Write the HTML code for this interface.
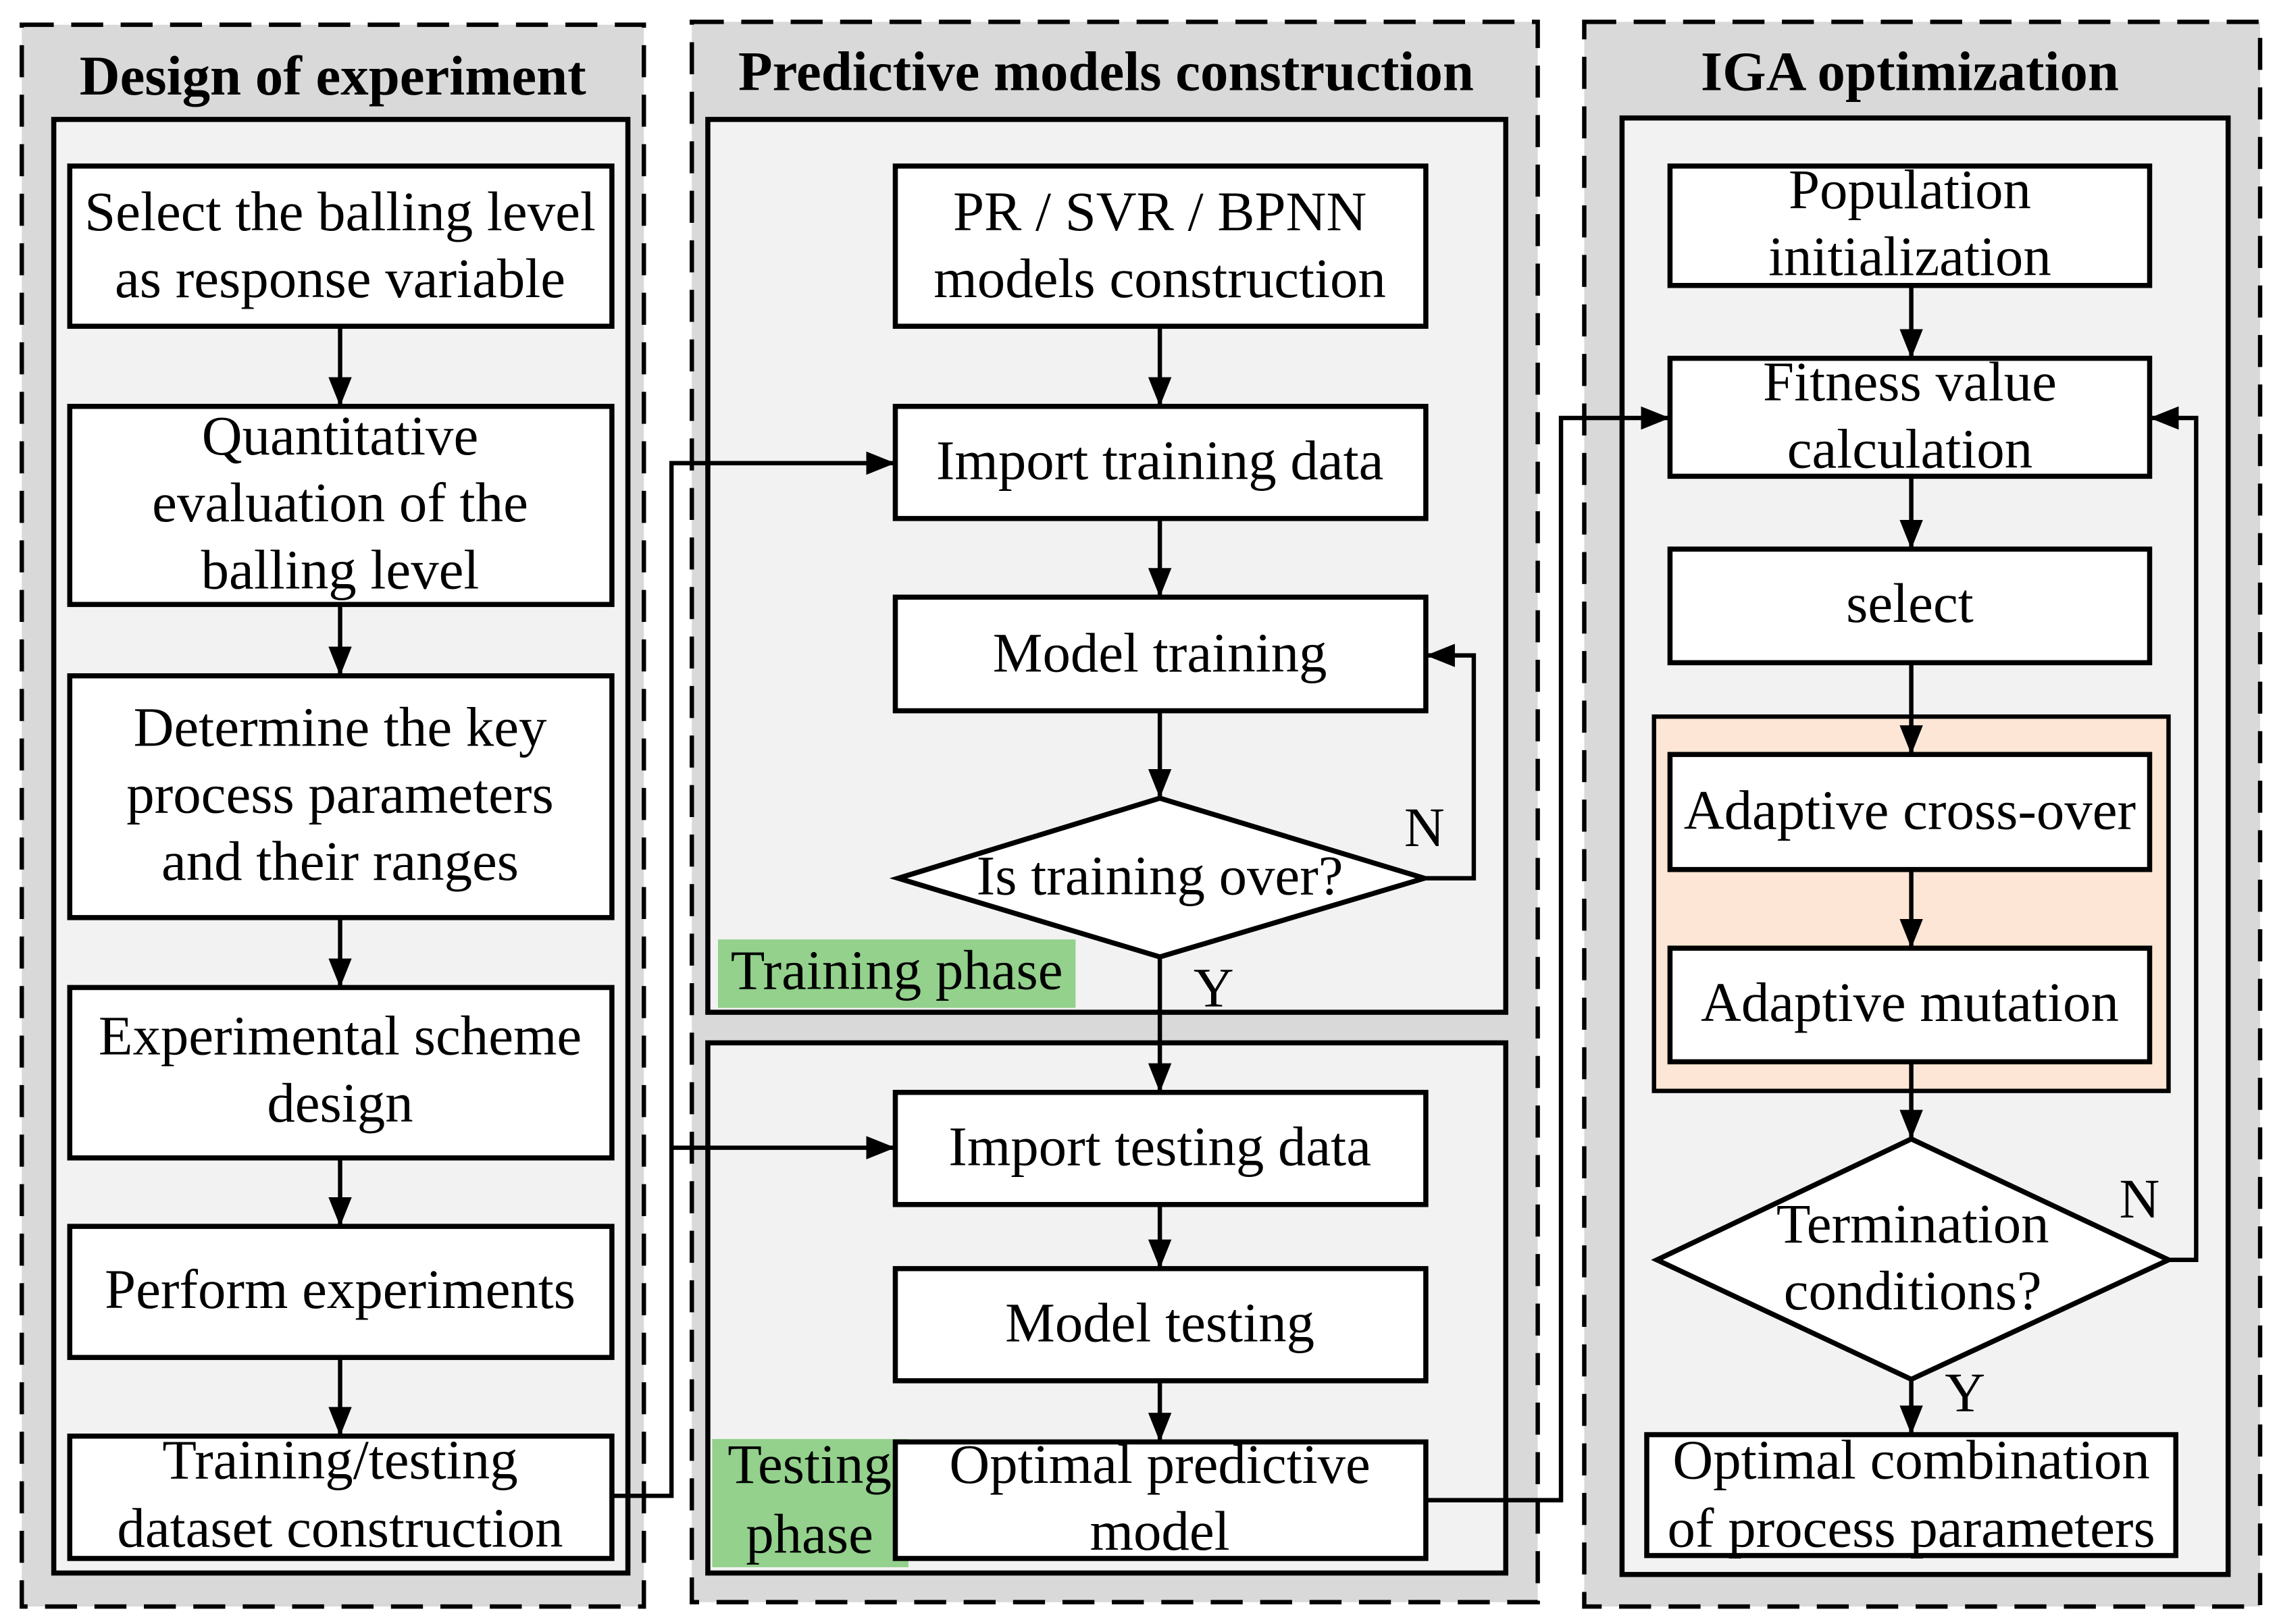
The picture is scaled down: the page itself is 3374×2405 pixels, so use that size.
<!DOCTYPE html>
<html><head><meta charset="utf-8"><style>
html,body{margin:0;padding:0;background:#fff;}
svg{display:block;}
</style></head><body>
<svg width="3374" height="2405" viewBox="0 0 1568 1115" preserveAspectRatio="none" xmlns="http://www.w3.org/2000/svg" font-family="'Liberation Serif', 'Times New Roman', serif" font-size="38.5" text-anchor="middle">
<defs>
<marker id="b" markerWidth="20" markerHeight="20" refX="20" refY="10" orient="auto" markerUnits="userSpaceOnUse" viewBox="0 0 20 20"><path d="M0,2 L20,10 L0,18 z" fill="#000"/></marker>
</defs>
<g stroke="#000" stroke-width="3" stroke-dasharray="22,12">
<rect x="15" y="17" width="428" height="1086" fill="#d9d9d9"/>
<rect x="476" y="15" width="582" height="1085" fill="#d9d9d9"/>
<rect x="1090" y="15" width="465" height="1088" fill="#d9d9d9"/>
</g>
<g font-weight="bold" font-size="38.5">
<text x="229" y="65">Design of experiment</text>
<text x="761" y="62">Predictive models construction</text>
<text x="1314" y="62">IGA optimization</text>
</g>
<g stroke="#000" stroke-width="3.5" fill="#f2f2f2">
<rect x="37" y="82" width="395" height="998"/>
<rect x="487" y="82" width="549" height="613"/>
<rect x="487" y="716" width="549" height="364"/>
<rect x="1116" y="81" width="417" height="1000"/>
<rect x="1138" y="492" width="354" height="257" fill="#fde6d5" stroke-width="3"/>
</g>
<rect x="494" y="645" width="246" height="47" fill="#93d18c"/>
<rect x="490" y="988" width="135" height="88" fill="#93d18c"/>
<g stroke="#000" stroke-width="3.5" fill="#fff">
<rect x="48" y="114" width="373" height="110"/>
<rect x="48" y="279" width="373" height="136"/>
<rect x="48" y="464" width="373" height="166"/>
<rect x="48" y="678" width="373" height="117"/>
<rect x="48" y="842" width="373" height="90"/>
<rect x="48" y="986" width="373" height="84"/>
<rect x="616" y="114" width="365" height="110"/>
<rect x="616" y="279" width="365" height="77"/>
<rect x="616" y="410" width="365" height="78"/>
<polygon points="618,603 798,548 980,603 798,657"/>
<rect x="616" y="750" width="365" height="77"/>
<rect x="616" y="871" width="365" height="77"/>
<rect x="616" y="990" width="365" height="80"/>
<rect x="1149" y="114" width="330" height="82"/>
<rect x="1149" y="246" width="330" height="81"/>
<rect x="1149" y="377" width="330" height="78"/>
<rect x="1149" y="518" width="330" height="79"/>
<rect x="1149" y="651" width="330" height="78"/>
<polygon points="1140,865 1315,782 1492,865 1315,947"/>
<rect x="1133" y="985" width="364" height="83"/>
</g>
<g stroke="#000" stroke-width="3" fill="none" marker-end="url(#b)">
<line x1="234" y1="224" x2="234" y2="279"/>
<line x1="234" y1="415" x2="234" y2="464"/>
<line x1="234" y1="630" x2="234" y2="678"/>
<line x1="234" y1="795" x2="234" y2="842"/>
<line x1="234" y1="932" x2="234" y2="986"/>
<line x1="798" y1="224" x2="798" y2="279"/>
<line x1="798" y1="356" x2="798" y2="410"/>
<line x1="798" y1="488" x2="798" y2="548"/>
<line x1="798" y1="657" x2="798" y2="750"/>
<line x1="798" y1="827" x2="798" y2="871"/>
<line x1="798" y1="948" x2="798" y2="990"/>
<polyline points="980,603 1014,603 1014,450 981,450"/>
<polyline points="421,1027 462,1027 462,318 616,318"/>
<polyline points="462,788 616,788"/>
<polyline points="981,1030 1074,1030 1074,287 1149,287"/>
<line x1="1315" y1="196" x2="1315" y2="246"/>
<line x1="1315" y1="327" x2="1315" y2="377"/>
<line x1="1315" y1="455" x2="1315" y2="518"/>
<line x1="1315" y1="597" x2="1315" y2="651"/>
<line x1="1315" y1="729" x2="1315" y2="782"/>
<line x1="1315" y1="947" x2="1315" y2="985"/>
<polyline points="1492,865 1511,865 1511,287 1479,287"/>
</g>
<g fill="#000">
<text x="234" y="158">Select the balling level</text>
<text x="234" y="204">as response variable</text>
<text x="234" y="312">Quantitative</text>
<text x="234" y="358">evaluation of the</text>
<text x="234" y="404">balling level</text>
<text x="234" y="512">Determine the key</text>
<text x="234" y="558">process parameters</text>
<text x="234" y="604">and their ranges</text>
<text x="234" y="724">Experimental scheme</text>
<text x="234" y="770">design</text>
<text x="234" y="898">Perform experiments</text>
<text x="234" y="1015">Training/testing</text>
<text x="234" y="1062">dataset construction</text>
<text x="798" y="158">PR / SVR / BPNN</text>
<text x="798" y="204">models construction</text>
<text x="798" y="329">Import training data</text>
<text x="798" y="461">Model training</text>
<text x="798" y="614">Is training over?</text>
<text x="980" y="581">N</text>
<text x="835" y="691">Y</text>
<text x="617" y="679">Training phase</text>
<text x="798" y="800">Import testing data</text>
<text x="798" y="921">Model testing</text>
<text x="798" y="1018">Optimal predictive</text>
<text x="798" y="1064">model</text>
<text x="557" y="1018">Testing</text>
<text x="557" y="1066">phase</text>
<text x="1314" y="143">Population</text>
<text x="1314" y="189">initialization</text>
<text x="1314" y="275">Fitness value</text>
<text x="1314" y="321">calculation</text>
<text x="1314" y="427">select</text>
<text x="1314" y="569">Adaptive cross-over</text>
<text x="1314" y="701">Adaptive mutation</text>
<text x="1316" y="853">Termination</text>
<text x="1316" y="899">conditions?</text>
<text x="1472" y="836">N</text>
<text x="1352" y="969">Y</text>
<text x="1315" y="1015">Optimal combination</text>
<text x="1315" y="1062">of process parameters</text>
</g>
</svg>
</body></html>
